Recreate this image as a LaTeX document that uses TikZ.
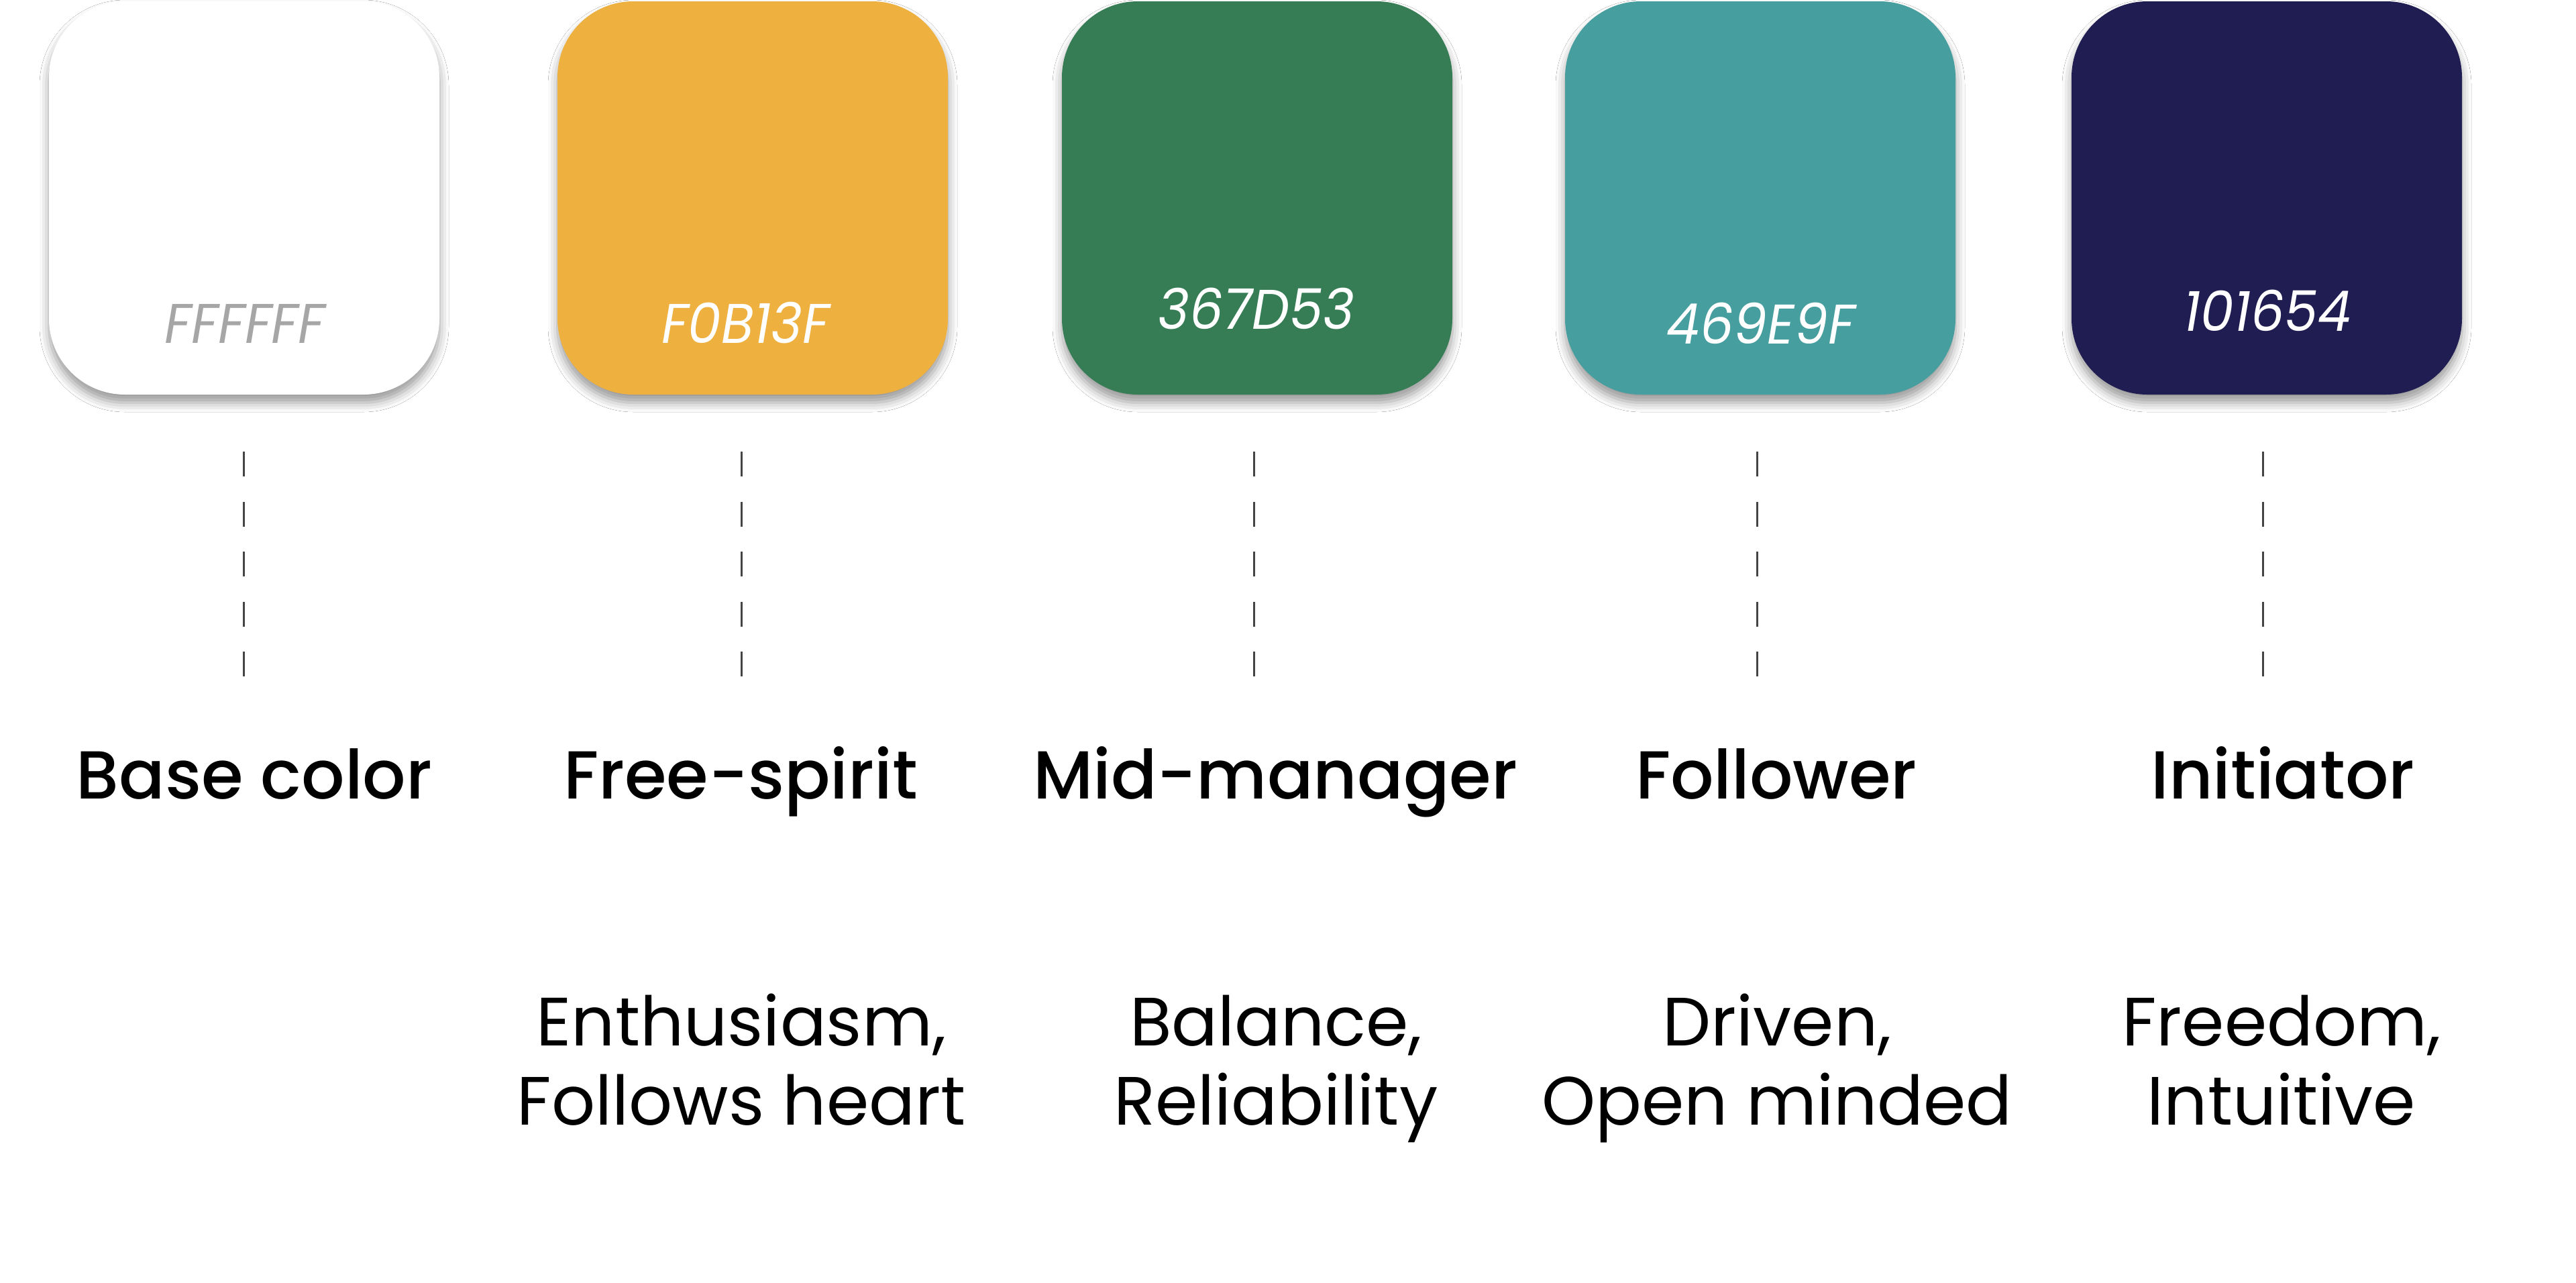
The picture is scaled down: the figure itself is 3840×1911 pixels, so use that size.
\documentclass[tikz,border=0pt]{standalone}
\usepackage{fontspec}
\setmainfont{Poppins}
\newfontfamily\titlefont{Poppins Medium}
\newfontfamily\hexfont[FakeStretch=0.95]{Poppins}
\usepackage{tikz}
\usetikzlibrary{shadows.blur}

\definecolor{basegray}{HTML}{A6A6A6}
\definecolor{freespirit}{HTML}{EEB03F}
\definecolor{midmanager}{HTML}{367D55}
\definecolor{follower}{HTML}{469E9F}
\definecolor{initiator}{HTML}{1F1D51}
\definecolor{guidegray}{HTML}{444444}

\begin{document}
\begin{tikzpicture}
[x=0.1mm,y=-0.1mm]
\tikzset{
	swatch/.style = {rectangle, rounded corners=11.3mm, minimum width=58.2mm, minimum height=58.6mm, inner sep=0,
		blur shadow={shadow xshift=0mm, shadow yshift=-1.2mm, shadow blur radius=1.4mm, shadow opacity=40}},
	hexcode/.style = {anchor=base, inner sep=0, text=white, font=\hexfont\itshape\fontsize{23.7}{26}\selectfont},
	role/.style = {anchor=base, inner sep=0, font=\titlefont\fontsize{28.8}{32}\selectfont},
	trait/.style = {anchor=base, inner sep=0, align=center, font=\fontsize{29}{33.5}\selectfont},
	guide/.style = {draw=guidegray, line width=0.3mm, dash pattern=on 3.7mm off 3.75mm}
}
\useasboundingbox [fill=white] (0,0) rectangle (3840,1911);

% swatches
\node (sw1) [swatch, fill=white] at (364,295) {};
\node (sw2) [swatch, fill=freespirit] at (1122,295) {};
\node (sw3) [swatch, fill=midmanager] at (1874,295) {};
\node (sw4) [swatch, fill=follower] at (2624,295) {};
\node (sw5) [swatch, fill=initiator] at (3379,295) {};

\node (hex1) [hexcode, text=basegray] at (365,511) {FFFFFF};
\node (hex2) [hexcode] at (1111,511) {F0B13F};
\node (hex3) [hexcode] at (1873,490) {367D53};
\node (hex4) [hexcode] at (2625,512) {469E9F};
\node (hex5) [hexcode] at (3380,493) {101654};

% dashed guides
\coordinate (g1a) at (363,673);  \coordinate (g1b) at (363,1008);
\coordinate (g2a) at (1105,673); \coordinate (g2b) at (1105,1008);
\coordinate (g3a) at (1869,673); \coordinate (g3b) at (1869,1008);
\coordinate (g4a) at (2619,673); \coordinate (g4b) at (2619,1008);
\coordinate (g5a) at (3373,673); \coordinate (g5b) at (3373,1008);
\draw [guide] (g1a) -- (g1b);
\draw [guide] (g2a) -- (g2b);
\draw [guide] (g3a) -- (g3b);
\draw [guide] (g4a) -- (g4b);
\draw [guide] (g5a) -- (g5b);

% roles
\node (role1) [role] at (379,1190) {Base color};
\node (role2) [role] at (1104,1190) {Free-spirit};
\node (role3) [role] at (1901,1190) {Mid-manager};
\node (role4) [role] at (2648,1190) {Follower};
\node (role5) [role] at (3403,1190) {Initiator};

\node (trait2) [trait] at (1105,1676) {Enthusiasm,\\Follows heart};
\node (trait3) [trait] at (1902,1676) {Balance,\\Reliability};
\node (trait4) [trait] at (2649,1676) {Driven,\\Open minded};
\node (trait5) [trait] at (3401,1676) {Freedom,\\Intuitive};

\end{tikzpicture}
\end{document}
